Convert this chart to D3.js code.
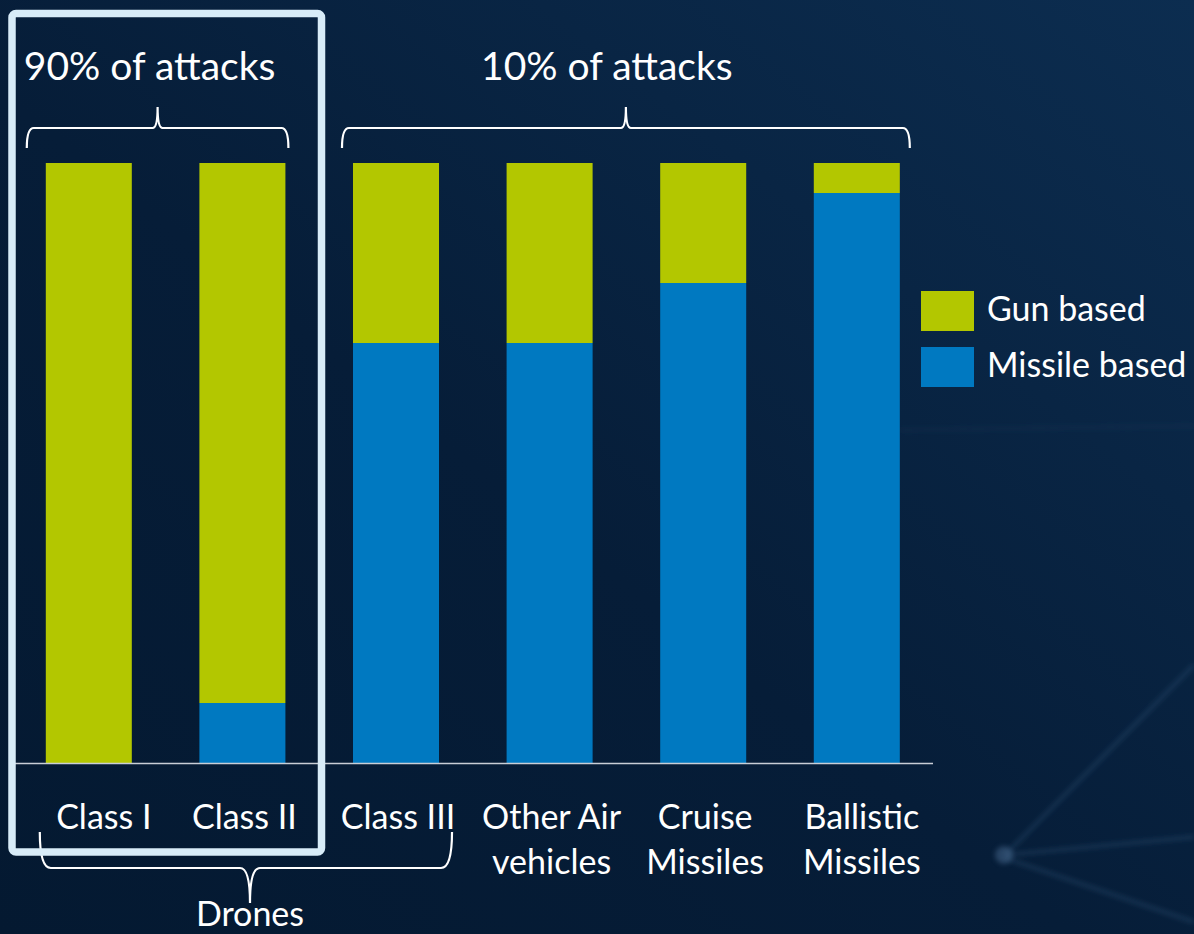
<!DOCTYPE html>
<html>
<head>
<meta charset="utf-8">
<script src="https://cdn.jsdelivr.net/npm/d3@7/dist/d3.min.js"></script>
<style>
  html, body { margin: 0; padding: 0; background: #051a33; }
  svg { display: block; }
  text { font-family: Lato, "Open Sans", sans-serif; fill: #ffffff; }
</style>
</head>
<body>
<svg id="chart" width="1194" height="934"></svg>
<script>
// ---- data ----
const categories = ["Class I", "Class II", "Class III", "Other Air vehicles", "Cruise Missiles", "Ballistic Missiles"];
const labelLines = [["Class I"], ["Class II"], ["Class III"], ["Other Air", "vehicles"], ["Cruise", "Missiles"], ["Ballistic", "Missiles"]];
const missileBased = [0, 10, 70, 70, 80, 95];
const gunBased = [100, 90, 30, 30, 20, 5];
const seriesNames = ["Gun based", "Missile based"];
const groupLabels = ["90% of attacks", "10% of attacks"];
const droneLabel = "Drones";

const W = 1194, H = 934;
const colors = { "Gun based": "#b3c700", "Missile based": "#0079c1" };

const svg = d3.select("#chart");

// background
const defs = svg.append("defs");
const bg = defs.append("linearGradient").attr("id", "bg")
  .attr("x1", "0").attr("y1", "1").attr("x2", "1").attr("y2", "0");
bg.append("stop").attr("offset", "0").attr("stop-color", "#041931");
bg.append("stop").attr("offset", "0.45").attr("stop-color", "#061d38");
bg.append("stop").attr("offset", "1").attr("stop-color", "#0c2d50");
svg.append("rect").attr("width", W).attr("height", H).attr("fill", "url(#bg)");

const blur = defs.append("filter").attr("id", "blur").attr("x", "-20%").attr("y", "-20%").attr("width", "140%").attr("height", "140%");
blur.append("feGaussianBlur").attr("stdDeviation", 2.5);
const deco = svg.append("g").attr("filter", "url(#blur)").attr("stroke", "#3d5f85").attr("fill", "none");
[[[1005, 855], [1194, 837]], [[1005, 855], [1194, 665]], [[1005, 858], [1194, 922]], [[900, 430], [1194, 426]]]
  .forEach((seg, i) => deco.append("path").attr("d", d3.line()(seg))
    .attr("stroke-width", i === 3 ? 6 : 4).attr("stroke-opacity", i === 3 ? 0.06 : 0.3));
svg.append("circle").attr("cx", 1004).attr("cy", 855).attr("r", 9)
  .attr("fill", "#4a6a90").attr("opacity", 0.5).attr("filter", "url(#blur)");

// scales
const x = d3.scaleBand().domain(categories).range([12, 933.6]).paddingInner(0.44).paddingOuter(0.22);
const y = d3.scaleLinear().domain([0, 100]).range([763, 163]);

const rows = categories.map((c, i) => ({ cat: c, "Missile based": missileBased[i], "Gun based": gunBased[i] }));
const stack = d3.stack().keys(["Missile based", "Gun based"]);
const layers = stack(rows);

svg.append("g").selectAll("g").data(layers).join("g")
  .attr("fill", d => colors[d.key])
  .selectAll("rect").data(d => d).join("rect")
  .attr("x", d => x(d.data.cat))
  .attr("width", x.bandwidth())
  .attr("y", d => y(d[1]))
  .attr("height", d => y(d[0]) - y(d[1]));

// baseline
svg.append("line").attr("x1", 12).attr("x2", 933).attr("y1", y(0) + 0.5).attr("y2", y(0) + 0.5)
  .attr("stroke", "#c9ced6").attr("stroke-width", 1.6);

// x labels
const lab = svg.append("g").attr("font-size", 34).attr("text-anchor", "middle");
labelLines.forEach((lines, i) => {
  const cx = x(categories[i]) + x.bandwidth() / 2 + (i === 0 ? 15 : (i === 5 ? 5 : 2));
  const t = lab.append("text").attr("x", cx).attr("y", 829);
  lines.forEach((l, j) => t.append("tspan").attr("x", cx).attr("dy", j === 0 ? 0 : 45).text(l));
});

// braces
function hBrace(x1, x2, yEnd, yMid, yTip, tip, r, rt) {
  return `M${x1},${yEnd} Q${x1},${yMid} ${x1 + r},${yMid} L${tip - rt},${yMid} Q${tip},${yMid} ${tip},${yTip} ` +
         `Q${tip},${yMid} ${tip + rt},${yMid} L${x2 - r},${yMid} Q${x2},${yMid} ${x2},${yEnd}`;
}
const bw = x.bandwidth();
const b1 = [x(categories[0]) - 19, x(categories[1]) + bw + 3];
const b2 = [x(categories[2]) - 11, x(categories[5]) + bw + 10];
const braces = svg.append("g").attr("fill", "none").attr("stroke", "#ffffff").attr("stroke-width", 2.2);
braces.append("path").attr("d", hBrace(b1[0], b1[1], 148, 128, 107, (b1[0] + b1[1]) / 2, 7, 5));
braces.append("path").attr("d", hBrace(b2[0], b2[1], 148, 128, 107, (b2[0] + b2[1]) / 2, 7, 5));
const b3 = [x(categories[0]) - 6, x(categories[2]) + bw + 13];
braces.append("path").attr("d", hBrace(b3[0], b3[1], 832, 868, 903, 250, 11, 10));

const ann = svg.append("g").attr("font-size", 39).attr("text-anchor", "middle");
ann.append("text").attr("x", (b1[0] + b1[1]) / 2 - 8).attr("y", 80).text(groupLabels[0]);
ann.append("text").attr("x", (b2[0] + b2[1]) / 2 - 19).attr("y", 80).text(groupLabels[1]);
svg.append("text").attr("x", 250).attr("y", 926).attr("font-size", 34).attr("text-anchor", "middle").text(droneLabel);

// highlight box
svg.append("rect").attr("x", 12).attr("y", 13.5).attr("width", 309.5).attr("height", 838.5)
  .attr("rx", 4).attr("fill", "none").attr("stroke", "#d8ecf8").attr("stroke-width", 7.5);

// legend
const leg = svg.append("g").attr("font-size", 34);
seriesNames.forEach((s, i) => {
  const g = leg.append("g").attr("transform", `translate(921,${291 + i * 56})`);
  g.append("rect").attr("width", 53).attr("height", 40).attr("fill", colors[s]);
  g.append("text").attr("x", 66).attr("y", 30).text(s);
});
</script>
</body>
</html>
